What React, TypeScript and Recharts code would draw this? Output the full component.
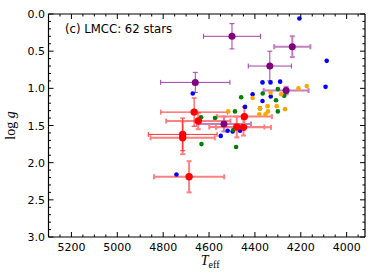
import { ScatterChart, Scatter, XAxis, YAxis, ErrorBar, Label } from 'recharts';

// small points (no error bars)
const blueTeff = [4206, 4087, 4092, 4367, 4332, 4290, 4410, 4331, 4367, 4443, 4519, 4497, 4465, 4549, 4671, 4742];
const blueLogg = [0.06, 0.63, 0.98, 0.92, 0.92, 0.91, 1.08, 1.11, 1.17, 1.25, 1.57, 1.58, 1.57, 1.64, 1.07, 2.16];

const greenTeff = [4300, 4272, 4460, 4366, 4308, 4300, 4487, 4635, 4574, 4494, 4633, 4482, 4378];
const greenLogg = [1.01, 1.1, 1.12, 1.07, 1.16, 1.31, 1.31, 1.39, 1.4, 1.56, 1.75, 1.79, 1.27];

const orangeTeff = [4410, 4332, 4286, 4210, 4174, 4378, 4381, 4345, 4305, 4343, 4354, 4269, 4516, 4538];
const orangeLogg = [1.13, 1.06, 1.08, 1.0, 0.97, 1.27, 1.35, 1.24, 1.24, 1.31, 1.35, 1.28, 1.31, 1.47];

// big points with error bars (dark bars / faded bars)
const purpleTeff = [4500, 4335, 4660];
const purpleLogg = [0.3, 0.7, 0.92];
const purpleTeffErr = [124, 94, 151];
const purpleLoggErr = [0.17, 0.2, 0.135];

const purpleFadedTeff = [4237, 4264, 4535];
const purpleFadedLogg = [0.44, 1.03, 1.48];
const purpleFadedTeffErr = [79, 98, 118];
const purpleFadedLoggErr = [0.14, 0.05, 0.1];

const redTeff = [4665, 4715];
const redLogg = [1.32, 1.62];
const redTeffErr = [145, 150];
const redLoggErr = [0.19, 0.22];

const redFadedTeff = [4647, 4715, 4687, 4446, 4479, 4450];
const redFadedLogg = [1.44, 1.665, 2.19, 1.38, 1.52, 1.525];
const redFadedTeffErr = [140, 140, 153, 120, 120, 120];
const redFadedLoggErr = [0.11, 0.22, 0.21, 0.13, 0.14, 0.11];

const xMajorTicks = [4000, 4200, 4400, 4600, 4800, 5000, 5200];
const xMinorTicks = [3950, 4000, 4050, 4100, 4150, 4200, 4250, 4300, 4350, 4400, 4450, 4500, 4550, 4600, 4650, 4700, 4750, 4800, 4850, 4900, 4950, 5000, 5050, 5100, 5150, 5200, 5250, 5300];
const yMajorTicks = [0, 0.5, 1, 1.5, 2, 2.5, 3];
const yMinorTicks = Array.from({ length: 31 }, (_, i) => Math.round(i * 10) / 100 * 10 / 10);

const pts = (t: number[], g: number[]) => t.map((v, i) => ({ teff: v, logg: g[i] }));
const errPts = (t: number[], g: number[], et: number[], eg: number[]) =>
  t.map((v, i) => ({ teff: v, logg: g[i], et: et[i], eg: eg[i] }));

const SANS = 'DejaVu Sans, sans-serif';
const SERIF = 'Liberation Serif, serif';

const isXMajor = (v: number) => xMajorTicks.includes(v);
const isYMajor = (v: number) => yMajorTicks.some((m) => Math.abs(m - v) < 1e-6);

function BottomTick({ x, y, payload }: any) {
  const major = isXMajor(payload.value);
  return (
    <g>
      <line x1={x} x2={x} y1={y} y2={y - (major ? 5 : 2.5)} stroke="#000" strokeWidth={1} />
      {major && (
        <text x={x} y={y + 14} textAnchor="middle" fontFamily={SANS} fontSize={11} fill="#000">
          {payload.value}
        </text>
      )}
    </g>
  );
}

function TopTick({ x, y, payload }: any) {
  const major = isXMajor(payload.value);
  return <line x1={x} x2={x} y1={y} y2={y + (major ? 5 : 2.5)} stroke="#000" strokeWidth={1} />;
}

function LeftTick({ x, y, payload }: any) {
  const major = isYMajor(payload.value);
  return (
    <g>
      <line x1={x} x2={x + (major ? 5 : 2.5)} y1={y} y2={y} stroke="#000" strokeWidth={1} />
      {major && (
        <text x={x - 3.5} y={y + 4} textAnchor="end" fontFamily={SANS} fontSize={11} fill="#000">
          {payload.value.toFixed(1)}
        </text>
      )}
    </g>
  );
}

function RightTick({ x, y, payload }: any) {
  const major = isYMajor(payload.value);
  return <line x1={x} x2={x - (major ? 5 : 2.5)} y1={y} y2={y} stroke="#000" strokeWidth={1} />;
}

const dot = (r: number, fill: string) => (p: any) => <circle cx={p.cx} cy={p.cy} r={r} fill={fill} />;

export default function App() {
  return (
    <div style={{ position: 'absolute', left: 0, top: 0, width: 374, height: 280, background: '#fff' }}>
      <ScatterChart width={374} height={280} margin={{ top: 0, right: 0, bottom: 0, left: 0 }}>
        <XAxis
          xAxisId="b"
          dataKey="teff"
          type="number"
          domain={[3920, 5300]}
          reversed
          allowDataOverflow
          ticks={xMinorTicks}
          interval={0}
          tickSize={0}
          tickMargin={0}
          tickLine={false}
          tick={<BottomTick />}
          height={43}
          axisLine={{ stroke: '#000', strokeWidth: 1.2 }}
        >
          <Label
            content={(props: any) => {
              const vb = props.viewBox;
              const cx = vb.x + vb.width / 2;
              return (
                <text x={cx - 6} y={vb.y + 28} fontFamily={SERIF} fontSize={14} fill="#000">
                  <tspan fontStyle="italic">T</tspan>
                  <tspan fontSize={10} dy={2.5}>eff</tspan>
                </text>
              );
            }}
          />
        </XAxis>
        <XAxis
          xAxisId="t"
          orientation="top"
          type="number"
          dataKey="teff"
          domain={[3920, 5300]}
          reversed
          allowDataOverflow
          ticks={xMinorTicks}
          interval={0}
          tickSize={0}
          tickMargin={0}
          tickLine={false}
          tick={<TopTick />}
          height={14}
          axisLine={{ stroke: '#000', strokeWidth: 1.2 }}
        />
        <YAxis
          yAxisId="l"
          dataKey="logg"
          type="number"
          domain={[0, 3]}
          reversed
          allowDataOverflow
          ticks={yMinorTicks}
          interval={0}
          tickSize={0}
          tickMargin={0}
          tickLine={false}
          tick={<LeftTick />}
          width={48.5}
          axisLine={{ stroke: '#000', strokeWidth: 1.2 }}
        >
          <Label
            content={(props: any) => {
              const vb = props.viewBox;
              const cy = vb.y + vb.height / 2;
              const cx = 15;
              return (
                <text
                  x={cx}
                  y={cy}
                  transform={`rotate(-90, ${cx}, ${cy})`}
                  textAnchor="middle"
                  fontFamily={SERIF}
                  fontSize={14}
                  fill="#000"
                >
                  log <tspan fontStyle="italic">g</tspan>
                </text>
              );
            }}
          />
        </YAxis>
        <YAxis
          yAxisId="r"
          orientation="right"
          dataKey="logg"
          type="number"
          domain={[0, 3]}
          reversed
          allowDataOverflow
          ticks={yMinorTicks}
          interval={0}
          tickSize={0}
          tickMargin={0}
          tickLine={false}
          tick={<RightTick />}
          width={9}
          axisLine={{ stroke: '#000', strokeWidth: 1.2 }}
        />

        <Scatter xAxisId="b" yAxisId="l" data={pts(blueTeff, blueLogg)} shape={dot(2.3, '#0000ff')} isAnimationActive={false} />
        <Scatter xAxisId="b" yAxisId="l" data={pts(greenTeff, greenLogg)} shape={dot(2.3, '#008000')} isAnimationActive={false} />
        <Scatter xAxisId="b" yAxisId="l" data={pts(orangeTeff, orangeLogg)} shape={dot(2.3, '#ffa500')} isAnimationActive={false} />
        {/* series tied to top/right axes so they get a scale */}
        <Scatter xAxisId="t" yAxisId="r" data={pts(orangeTeff, orangeLogg)} shape={() => <g />} isAnimationActive={false} />

        <Scatter
          xAxisId="b"
          yAxisId="l"
          data={errPts(purpleFadedTeff, purpleFadedLogg, purpleFadedTeffErr, purpleFadedLoggErr)}
          shape={dot(3.5, '#800080')}
          isAnimationActive={false}
        >
          <ErrorBar dataKey="et" direction="x" width={2.5} stroke="#c080c0" strokeWidth={2} isAnimationActive={false} />
          <ErrorBar dataKey="eg" direction="y" width={2.5} stroke="#c080c0" strokeWidth={2} isAnimationActive={false} />
        </Scatter>
        <Scatter
          xAxisId="b"
          yAxisId="l"
          data={errPts(purpleTeff, purpleLogg, purpleTeffErr, purpleLoggErr)}
          shape={dot(3.5, '#800080')}
          isAnimationActive={false}
        >
          <ErrorBar dataKey="et" direction="x" width={2.5} stroke="#a040a8" strokeWidth={1} isAnimationActive={false} />
          <ErrorBar dataKey="eg" direction="y" width={2.5} stroke="#a040a8" strokeWidth={1} isAnimationActive={false} />
        </Scatter>
        <Scatter
          xAxisId="b"
          yAxisId="l"
          data={errPts(redFadedTeff, redFadedLogg, redFadedTeffErr, redFadedLoggErr)}
          shape={dot(3.7, '#ff0000')}
          isAnimationActive={false}
        >
          <ErrorBar dataKey="et" direction="x" width={2.5} stroke="#ff8080" strokeWidth={2} isAnimationActive={false} />
          <ErrorBar dataKey="eg" direction="y" width={2.5} stroke="#ff8080" strokeWidth={2} isAnimationActive={false} />
        </Scatter>
        <Scatter
          xAxisId="b"
          yAxisId="l"
          data={errPts(redTeff, redLogg, redTeffErr, redLoggErr)}
          shape={dot(3.7, '#ff0000')}
          isAnimationActive={false}
        >
          <ErrorBar dataKey="et" direction="x" width={2.5} stroke="#ff3030" strokeWidth={1} isAnimationActive={false} />
          <ErrorBar dataKey="eg" direction="y" width={2.5} stroke="#ff3030" strokeWidth={1} isAnimationActive={false} />
        </Scatter>
      </ScatterChart>
      <div
        style={{
          position: 'absolute',
          left: 65,
          top: 22,
          fontFamily: SANS,
          fontSize: 11.7,
          lineHeight: '14px',
          color: '#000',
          whiteSpace: 'nowrap',
        }}
      >
        (c) LMCC: 62 stars
      </div>
    </div>
  );
}
